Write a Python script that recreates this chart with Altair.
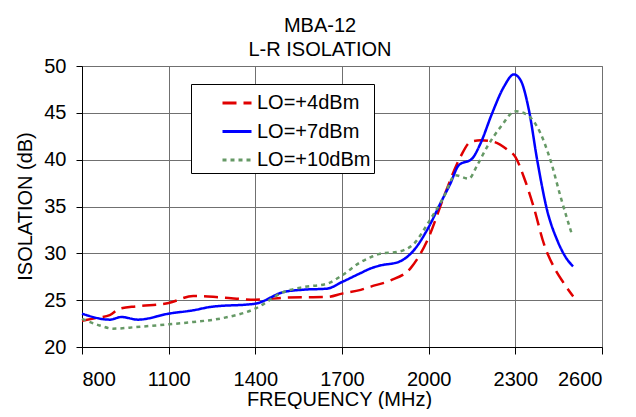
import altair as alt
import pandas as pd

series_names = ["LO=+4dBm", "LO=+7dBm", "LO=+10dBm"]
series_colors = ["#E00000", "#0000FF", "#669966"]
series_dash = [[14, 7], [1, 0], [4, 4]]

freq_lo4 = [800, 850, 896, 931, 990, 1100, 1185, 1280, 1400, 1510, 1650, 1700, 1765, 1800,
            1867, 1937, 2000, 2052, 2110, 2145, 2180, 2225, 2272, 2300, 2330, 2364, 2399,
            2434, 2468, 2500]
iso_lo4 = [22.8, 23.1, 23.4, 24.1, 24.35, 24.7, 25.45, 25.3, 25.05, 25.27, 25.35, 25.7, 26.1,
           26.45, 27.1, 28.4, 31.7, 36.0, 40.3, 41.9, 42.07, 41.9, 41.07, 40.3, 38.1, 34.9,
           31.0, 28.5, 26.8, 25.4]

freq_lo7 = [800, 896, 936, 994, 1100, 1185, 1243, 1400, 1498, 1567, 1648, 1700, 1765, 1800,
            1832, 1895, 1948, 2000, 2040, 2075, 2104, 2150, 2179, 2219, 2260, 2295, 2318,
            2347, 2376, 2410, 2445, 2474, 2500]
iso_lo7 = [23.56, 22.92, 23.2, 22.92, 23.56, 23.92, 24.27, 24.63, 25.87, 26.12, 26.23, 26.94,
           27.9, 28.4, 28.7, 29.07, 30.3, 32.8, 35.3, 37.44, 39.4, 40.1, 41.7, 44.9, 47.76,
           49.1, 48.5, 45.3, 39.9, 34.6, 31.4, 29.6, 28.6]

freq_lo10 = [800, 861, 907, 988, 1100, 1185, 1278, 1400, 1498, 1567, 1648, 1700, 1765, 1800,
             1832, 1890, 1948, 2000, 2052, 2092, 2139, 2168, 2202, 2249, 2300, 2335, 2376,
             2422, 2457, 2497]
iso_lo10 = [23.0, 22.3, 21.96, 22.13, 22.42, 22.67, 23.03, 24.1, 25.87, 26.4, 26.76, 27.65,
            29.07, 29.6, 29.96, 30.14, 31.0, 33.34, 36.0, 38.33, 37.98, 39.4, 41.35, 43.49,
            45.16, 44.9, 43.49, 39.9, 36.0, 31.9]

x_ticks = [800, 1100, 1400, 1700, 2000, 2300, 2600]
y_ticks = [20, 25, 30, 35, 40, 45, 50]

rows = []
for name, fs, vs in [(series_names[0], freq_lo4, iso_lo4),
                     (series_names[1], freq_lo7, iso_lo7),
                     (series_names[2], freq_lo10, iso_lo10)]:
    for f, v in zip(fs, vs):
        rows.append({"series": name, "freq": f, "iso": v})
df = pd.DataFrame(rows)

FONT = "Liberation Sans"

chart = alt.Chart(df).mark_line(interpolate="monotone", strokeWidth=2.5).encode(
    x=alt.X("freq:Q",
            scale=alt.Scale(domain=[800, 2600], nice=False, zero=False),
            axis=alt.Axis(values=x_ticks, format="d", title="FREQUENCY (MHz)", tickSize=7,
                          labelPadding=15, titleX=257, titleY=58,
                          titleAlign="center", titleBaseline="alphabetic")),
    y=alt.Y("iso:Q",
            scale=alt.Scale(domain=[20, 50], nice=False, zero=False),
            axis=alt.Axis(values=y_ticks, title="ISOLATION (dB)", tickSize=6,
                          labelPadding=10, titleX=-51, titleY=140, titleAngle=270,
                          titleAlign="center", titleBaseline="alphabetic")),
    color=alt.Color("series:N", sort=series_names,
                    scale=alt.Scale(domain=series_names, range=series_colors),
                    legend=alt.Legend(title=None)),
    strokeDash=alt.StrokeDash("series:N", sort=series_names,
                              scale=alt.Scale(domain=series_names, range=series_dash),
                              legend=alt.Legend(title=None)),
    detail="series:N",
).properties(
    width=520,
    height=281,
    autosize=alt.AutoSizeParams(type="none"),
    padding={"left": 74, "top": 58, "right": 20, "bottom": 62},
    title=alt.TitleParams(text=["MBA-12", "L-R ISOLATION"], fontSize=20, font=FONT,
                          fontWeight="normal", color="black", lineHeight=24,
                          anchor="middle", dx=-22, dy=12, offset=8),
).configure_view(
    stroke="#808080", strokeWidth=1
).configure_axis(
    labelFont=FONT, labelFontSize=20, labelColor="black",
    titleFont=FONT, titleFontSize=20, titleFontWeight="normal", titleColor="black",
    domainColor="black", tickColor="black", gridColor="#707070", gridWidth=1,
    labelOverlap=False,
).configure_legend(
    orient="none", legendX=109, legendY=18, padding=3, symbolOffset=27,
    symbolType="stroke", symbolSize=841, symbolStrokeWidth=3,
    labelFont=FONT, labelFontSize=20, labelColor="black", labelOffset=4,
    rowPadding=2.5, strokeColor="black", fillColor="white", cornerRadius=0,
)

chart.save("out.html", embed_options={"renderer": "svg", "actions": False})
